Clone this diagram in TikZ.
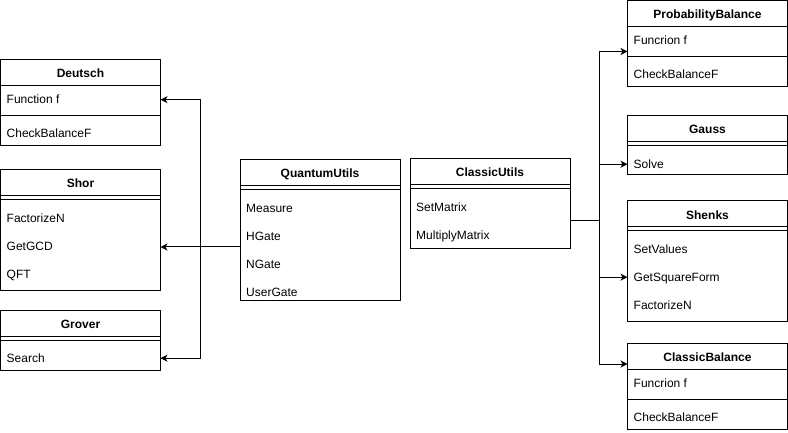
\documentclass[tikz,border=0pt]{standalone}
\usepackage{fontspec}
\setmainfont{Liberation Sans}
\usetikzlibrary{arrows.meta,calc}

\begin{document}
\begin{tikzpicture}[x=1pt,y=-1pt]
\tikzset{class/.style={draw,line width=1pt,minimum width=160pt,anchor=north west,inner sep=0pt,outer sep=0pt}}
\tikzset{title/.style={anchor=base,inner sep=0pt,text height=8.6pt,text depth=0pt,font=\fontsize{12}{14}\selectfont\bfseries}}
\tikzset{item/.style={anchor=base west,inner sep=0pt,text height=8.6pt,text depth=0pt,font=\fontsize{12}{14}\selectfont}}
\tikzset{link/.style={line width=1pt}}
\tikzset{arr/.style={link,-{Stealth[length=7pt,width=7pt,inset=2pt]}}}

\useasboundingbox (0,0) rectangle (788,433);

\node[class,minimum height=86pt] (deutsch) at (0.5,60) {};
\node[class,minimum height=120pt] (shor) at (0.5,170) {};
\node[class,minimum height=60pt] (grover) at (0.5,310) {};
\node[class,minimum height=140pt] (qutils) at (240,160) {};
\node[class,minimum height=90pt] (cutils) at (410,159) {};
\node[class,minimum height=86pt] (pbal) at (627.5,0.5) {};
\node[class,minimum height=59pt] (gauss) at (627.5,116) {};
\node[class,minimum height=120pt] (shenks) at (627.5,201) {};
\node[class,minimum height=86pt] (cbal) at (627.5,343) {};

\node[title] (deutsch-t) at ($(deutsch.north)+(0,18)$) {Deutsch};
\node[title] (shor-t) at ($(shor.north)+(0,18)$) {Shor};
\node[title] (grover-t) at ($(grover.north)+(0,18)$) {Grover};
\node[title] (qutils-t) at ($(qutils.north)+(0,18)$) {QuantumUtils};
\node[title] (cutils-t) at ($(cutils.north)+(0,18)$) {ClassicUtils};
\node[title] (pbal-t) at ($(pbal.north)+(0,18)$) {ProbabilityBalance};
\node[title] (gauss-t) at ($(gauss.north)+(0,18)$) {Gauss};
\node[title] (shenks-t) at ($(shenks.north)+(0,18)$) {Shenks};
\node[title] (cbal-t) at ($(cbal.north)+(0,18)$) {ClassicBalance};

\foreach \b in {deutsch,pbal,cbal}
  \draw[link] ($(\b.north west)+(0,26)$) -- ($(\b.north east)+(0,26)$)
              ($(\b.north west)+(0,56)$) -- ($(\b.north east)+(0,56)$);
\foreach \b in {shor,grover,qutils,cutils,gauss,shenks}
  \draw[link] ($(\b.north west)+(0,26)$) -- ($(\b.north east)+(0,26)$)
              ($(\b.north west)+(0,30)$) -- ($(\b.north east)+(0,30)$);

\node[item] (funcf) at ($(deutsch.north west)+(6,44)$) {Function f};
\node[item] (deutsch-check) at ($(deutsch.north west)+(6,78)$) {CheckBalanceF};
\node[item] (pbal-f) at ($(pbal.north west)+(6,44)$) {Funcrion f};
\node[item] (pbal-check) at ($(pbal.north west)+(6,78)$) {CheckBalanceF};
\node[item] (cbal-f) at ($(cbal.north west)+(6,44)$) {Funcrion f};
\node[item] (cbal-check) at ($(cbal.north west)+(6,78)$) {CheckBalanceF};

\foreach \t [count=\i] in {FactorizeN,GetGCD,QFT}
  \node[item] (shor-\i) at ($(shor.north west)+(6,52.5+28*\i-28)$) {\t};
\node[item] (search) at ($(grover.north west)+(6,52.5)$) {Search};
\foreach \t [count=\i] in {Measure,HGate,NGate,UserGate}
  \node[item] (qutils-\i) at ($(qutils.north west)+(6,52.5+28*\i-28)$) {\t};
\foreach \t [count=\i] in {SetMatrix,MultiplyMatrix}
  \node[item] (cutils-\i) at ($(cutils.north west)+(6,52.5+28*\i-28)$) {\t};
\node[item] (solve) at ($(gauss.north west)+(6,52.5)$) {Solve};
\foreach \t [count=\i] in {SetValues,GetSquareForm,FactorizeN}
  \node[item] (shenks-\i) at ($(shenks.north west)+(6,52.5+28*\i-28)$) {\t};

\coordinate (qbus) at (200,247);
\coordinate (cbus) at (599,221);
\coordinate (pbal-in) at ($(pbal.north west)+(0,51)$);
\coordinate (cbal-in) at ($(cbal.north west)+(0,21)$);

\draw[link] (qutils.west |- qbus) -- (qbus);
\draw[arr] (qbus) -- (shor.east |- qbus);
\draw[arr] (qbus) |- (deutsch.east |- funcf);
\draw[arr] (qbus) |- (grover.east |- search);

\draw[link] (cutils.east |- cbus) -- (cbus);
\draw[arr] (cbus) |- (pbal-in);
\draw[arr] (cbus) |- (gauss.west |- solve);
\draw[arr] (cbus) |- (shenks.west |- shenks-2);
\draw[arr] (cbus) |- (cbal-in);

\end{tikzpicture}
\end{document}
